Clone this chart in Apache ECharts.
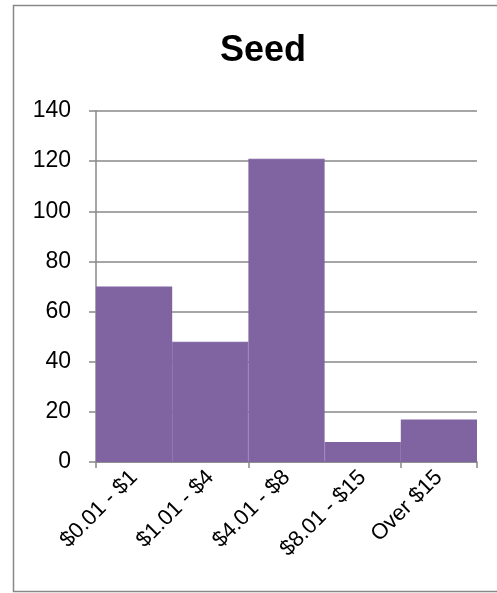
<!DOCTYPE html>
<html>
<head>
<meta charset="utf-8">
<script src="https://cdn.jsdelivr.net/npm/echarts@6/dist/echarts.min.js"></script>
<style>
html,body{margin:0;padding:0;background:#fff;}
#chart{width:497px;height:593px;}
</style>
</head>
<body>
<div id="chart"></div>
<script>
var categories = ["$0.01 - $1", "$1.01 - $4", "$4.01 - $8", "$8.01 - $15", "Over $15"];
var values = [70, 48, 121, 8, 17];
var yTicks = [0, 20, 40, 60, 80, 100, 120, 140];

var chart = echarts.init(document.getElementById('chart'));
chart.setOption({
  animation: false,
  backgroundColor: '#fff',
  graphic: [{
    type: 'rect',
    shape: {x: 13.5, y: 5.5, width: 500, height: 586},
    style: {fill: 'none', stroke: '#888', lineWidth: 1.5},
    silent: true
  }],
  title: {
    text: 'Seed',
    left: 258,
    textAlign: 'center',
    top: 28,
    textStyle: {fontFamily: 'Liberation Sans', fontWeight: 'bold', fontSize: 36, color: '#000'}
  },
  grid: {left: 96, right: 20, top: 111, bottom: 131},
  xAxis: {
    type: 'category',
    data: categories,
    axisLine: {lineStyle: {color: '#888', width: 1.5}},
    axisTick: {show: true, interval: 1, length: 6, lineStyle: {color: '#888', width: 1.5}},
    axisLabel: {rotate: 45, margin: 12, fontFamily: 'Liberation Sans', fontSize: 22, color: '#000', interval: 0}
  },
  yAxis: {
    type: 'value',
    min: yTicks[0],
    max: yTicks[yTicks.length - 1],
    interval: 20,
    axisLine: {show: true, lineStyle: {color: '#888', width: 1.5}},
    axisTick: {show: true, length: 7, lineStyle: {color: '#888', width: 1.5}},
    splitLine: {lineStyle: {color: '#888', width: 1.5}},
    axisLabel: {margin: 25, fontFamily: 'Liberation Sans', fontSize: 23, color: '#000'}
  },
  series: [{
    type: 'bar',
    data: values,
    barCategoryGap: '0%',
    itemStyle: {color: '#8064A2', borderColor: '#8064A2', borderWidth: 1.2}
  }]
});
</script>
</body>
</html>
